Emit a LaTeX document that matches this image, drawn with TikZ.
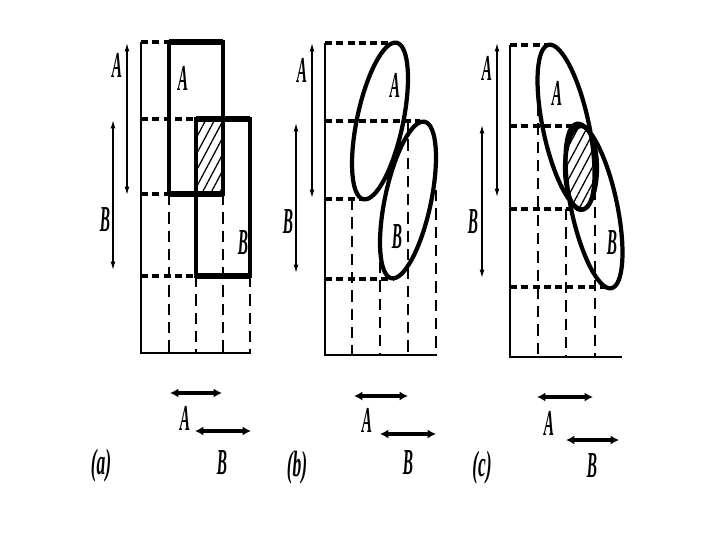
\documentclass[tikz,border=0pt]{standalone}
\usepackage{fontspec}
\setmainfont{Liberation Serif}
\usepackage{tikz}
\usetikzlibrary{arrows.meta,patterns.meta}
\tikzset{
  gridline/.style={line width=0.9pt, dash pattern=on 8pt off 5pt},
  levelline/.style={line width=2.6pt, dash pattern=on 5pt off 3pt},
  axisline/.style={line width=1.3pt},
  outline/.style={line width=3pt},
  heavyline/.style={line width=4.4pt},
  hatched/.style={pattern={Lines[angle=62,distance=5.5pt,line width=0.9pt]}},
  spanarrow/.style={line width=0.9pt,
      {Latex[length=6pt,width=3.5pt]}-{Latex[length=6pt,width=3.5pt]}},
  rangearrow/.style={line width=2.4pt,
      {Latex[length=6pt,width=6.5pt]}-{Latex[length=6pt,width=6.5pt]}},
  varname/.style={font=\fontsize{26}{28}\selectfont\bfseries\itshape, xscale=0.42, inner sep=0pt},
  panelname/.style={font=\fontsize{26}{28}\selectfont\bfseries\itshape, xscale=0.48, inner sep=0pt}
}

\begin{document}
\begin{tikzpicture}[x=0.025cm, y=-0.025cm]
\useasboundingbox (0,0) rectangle (720,540);

% panel (a): two rectangles
\path
  (169,42) coordinate (a-A1) (223,194) coordinate (a-A2)
  (196,119) coordinate (a-B1) (250,276) coordinate (a-B2);
\fill[hatched] (a-B1) rectangle (a-A2);
\draw[gridline]
  (169,194) -- (169,353) (196,276) -- (196,353)
  (223,194) -- (223,353) (250,276) -- (250,353);
\draw[levelline]
  (141,42) -- (a-A1) (141,119) -- (a-B1)
  (141,194) -- (169,194) (141,276) -- (196,276);
\draw[axisline] (141,42) -- (141,353) -- (251,353);
\draw[outline] (a-A1) rectangle (a-A2) (a-B1) rectangle (a-B2);
\draw[heavyline]
  (a-A1) -- (a-A2 |- a-A1) (a-A1 |- a-A2) -- (a-A2)
  (a-B1) -- (a-B2 |- a-B1) (a-B1 |- a-B2) -- (a-B2);
\node[varname] (a-inA) at (183,78) {A};
\node[varname] (a-inB) at (243,243) {B};

% panel (b): two ellipses
\draw[gridline]
  (352,199) -- (352,355) (380,262) -- (380,355)
  (408,121) -- (408,355) (436,190) -- (436,355);
\draw[levelline]
  (325,43) -- (390,43) (325,121) -- (420,121)
  (325,199) -- (365,199) (325,279) -- (393,279);
\draw[axisline] (325,43) -- (325,355) -- (437,355);
\draw[outline]
  (380,121) ellipse [x radius=80, y radius=23, rotate=78]
  (408,200) ellipse [x radius=80, y radius=23, rotate=78];
\node[varname] (b-inA) at (395,85) {A};
\node[varname] (b-inB) at (397,237) {B};

% panel (c): two ellipses and their overlap
\draw[gridline]
  (538,105) -- (538,357) (566,209) -- (566,357) (595,170) -- (595,357);
\draw[levelline]
  (510,45) -- (552,45) (510,126) -- (585,126)
  (510,209) -- (578,209) (510,287) -- (608,287);
\draw[axisline] (510,45) -- (510,357) -- (622,357);
\draw[outline]
  (566,127) ellipse [x radius=84, y radius=23, rotate=102]
  (594,206) ellipse [x radius=84, y radius=23, rotate=102];
\draw[outline, hatched] (581,168) ellipse [x radius=16, y radius=42];
\node[varname] (c-inA) at (557,93) {A};
\node[varname] (c-inB) at (612,243) {B};

% the vertical spans
\path
  (127,43) coordinate (a-vA1) (127,195) coordinate (a-vA2)
  (113,120) coordinate (a-vB1) (113,270) coordinate (a-vB2)
  (312,43) coordinate (b-vA1) (312,198) coordinate (b-vA2)
  (296,123) coordinate (b-vB1) (296,273) coordinate (b-vB2)
  (497,43) coordinate (c-vA1) (497,197) coordinate (c-vA2)
  (482,125) coordinate (c-vB1) (482,278) coordinate (c-vB2);
\foreach \p in {a,b,c} {
  \draw[spanarrow] (\p-vA1) -- (\p-vA2);
  \draw[spanarrow] (\p-vB1) -- (\p-vB2);
}
\node[varname] (a-vA) at (117,65) {A};
\node[varname] (a-vB) at (105,220) {B};
\node[varname] (b-vA) at (302,70) {A};
\node[varname] (b-vB) at (288,222) {B};
\node[varname] (c-vA) at (487,68) {A};
\node[varname] (c-vB) at (473,222) {B};

% the horizontal spans
\path
  (170,393) coordinate (a-hA1) (222,393) coordinate (a-hA2)
  (195,431) coordinate (a-hB1) (251,431) coordinate (a-hB2)
  (354,396) coordinate (b-hA1) (408,396) coordinate (b-hA2)
  (380,434) coordinate (b-hB1) (436,434) coordinate (b-hB2)
  (537,397) coordinate (c-hA1) (593,397) coordinate (c-hA2)
  (566,440) coordinate (c-hB1) (619,440) coordinate (c-hB2);
\foreach \p in {a,b,c} {
  \draw[rangearrow] (\p-hA1) -- (\p-hA2);
  \draw[rangearrow] (\p-hB1) -- (\p-hB2);
}
\node[varname] (a-hA) at (185,418) {A};
\node[varname] (a-hB) at (222,463) {B};
\node[varname] (b-hA) at (367,420) {A};
\node[varname] (b-hB) at (408,463) {B};
\node[varname] (c-hA) at (549,423) {A};
\node[varname] (c-hB) at (592,466) {B};

% panel names
\node[panelname] (a-name) at (101,466) {(a)};
\node[panelname] (b-name) at (297,468) {(b)};
\node[panelname] (c-name) at (482,468) {(c)};
\end{tikzpicture}
\end{document}
